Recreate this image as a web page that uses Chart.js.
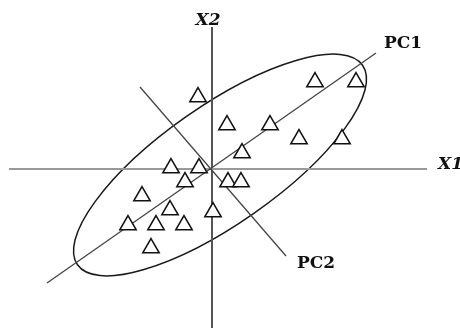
<!DOCTYPE html>
<html>
<head>
<meta charset="utf-8">
<script src="https://cdn.jsdelivr.net/npm/chart.js@4/dist/chart.umd.min.js"></script>
<style>
html,body{margin:0;padding:0;background:#fff;}
#wrap{width:460px;height:328px;}
</style>
</head>
<body>
<div id="wrap"><canvas id="c" width="460" height="328"></canvas></div>
<script>
// Observations (triangle markers)
const triX = [-1.4, 1.5, 10.3, 14.4, 5.8, 8.7, 13.0, 3.0, -4.1, -1.3, -2.7, 1.6, 2.9, -7.0, -4.2, 0.1, -8.4, -5.6, -2.8, -6.1];
const triY = [7.2, 4.4, 8.7, 8.7, 4.4, 3.0, 3.0, 1.6, 0.1, 0.1, -1.3, -1.3, -1.3, -2.7, -4.1, -4.3, -5.6, -5.6, -5.6, -7.9];

// Original axes X1 / X2 (end points)
const x1AxisX = [-20.3, 21.5];
const x1AxisY = [0, 0];
const x2AxisX = [0, 0];
const x2AxisY = [14.2, -16.0];

// Principal component directions (end points)
const pc1X = [-16.5, 16.4];
const pc1Y = [-11.4, 11.6];
const pc2X = [-7.2, 7.4];
const pc2Y = [8.2, -8.7];

// Confidence ellipse: centre x, centre y, semi-major, semi-minor, angle (deg)
const ellipseParams = [0.8, 0.4, 17.4, 5.9, 35];

// Labels
const labelText = ['X1', 'X2', 'PC1', 'PC2'];
const labelX = [22.6, -0.4, 19.1, 10.4];
const labelY = [0.0, 14.8, 12.55, -9.5];

const toPts = (xs, ys) => xs.map((x, i) => ({x: x, y: ys[i]}));

const ellipsePlugin = {
  id: 'ellipse',
  beforeDatasetsDraw(chart) {
    const xs = chart.scales.x, ys = chart.scales.y, ctx = chart.ctx;
    const [cx, cy, a, b, ang] = ellipseParams;
    const px = xs.getPixelForValue(cx), py = ys.getPixelForValue(cy);
    const rx = Math.abs(xs.getPixelForValue(cx + a) - px);
    const ry = Math.abs(ys.getPixelForValue(cy + b) - py);
    ctx.save();
    ctx.beginPath();
    ctx.ellipse(px, py, rx, ry, -ang * Math.PI / 180, 0, Math.PI * 2);
    ctx.strokeStyle = '#1a1a1a';
    ctx.lineWidth = 1.5;
    ctx.stroke();
    ctx.restore();
  }
};

const labelPlugin = {
  id: 'labels',
  afterDraw(chart) {
    const xs = chart.scales.x, ys = chart.scales.y, ctx = chart.ctx;
    ctx.save();
    ctx.fillStyle = '#111';
    labelText.forEach((t, i) => {
      const px = xs.getPixelForValue(labelX[i]);
      const py = ys.getPixelForValue(labelY[i]);
      if (t === 'X1') {
        ctx.font = 'bold italic 17px "DejaVu Serif"';
        ctx.textAlign = 'left';
        ctx.textBaseline = 'alphabetic';
      } else if (t === 'X2') {
        ctx.font = 'bold italic 17px "DejaVu Serif"';
        ctx.textAlign = 'center';
        ctx.textBaseline = 'middle';
      } else {
        ctx.font = 'bold 17px "DejaVu Serif"';
        ctx.textAlign = 'center';
        ctx.textBaseline = 'middle';
      }
      ctx.fillText(t, px, py);
    });
    ctx.restore();
  }
};

new Chart(document.getElementById('c'), {
  type: 'scatter',
  data: {
    datasets: [
      {
        label: 'observations',
        data: toPts(triX, triY),
        pointStyle: 'triangle',
        pointRadius: 9.5,
        pointHoverRadius: 9.5,
        backgroundColor: '#fff',
        borderColor: '#111',
        borderWidth: 1.5,
        order: 0
      },
      {
        label: 'X1',
        data: toPts(x1AxisX, x1AxisY),
        showLine: true, pointRadius: 0,
        borderColor: '#999', borderWidth: 2, order: 3
      },
      {
        label: 'X2',
        data: toPts(x2AxisX, x2AxisY),
        showLine: true, pointRadius: 0,
        borderColor: '#555', borderWidth: 2, order: 3
      },
      {
        label: 'PC1',
        data: toPts(pc1X, pc1Y),
        showLine: true, pointRadius: 0,
        borderColor: '#444', borderWidth: 1.3, order: 2
      },
      {
        label: 'PC2',
        data: toPts(pc2X, pc2Y),
        showLine: true, pointRadius: 0,
        borderColor: '#444', borderWidth: 1.3, order: 2
      }
    ]
  },
  options: {
    responsive: false,
    animation: false,
    devicePixelRatio: 1,
    layout: { padding: 0, autoPadding: false },
    plugins: { legend: { display: false }, tooltip: { enabled: false }, title: { display: false } },
    events: [],
    scales: {
      x: { type: 'linear', display: false, min: -21.2, max: 24.8 },
      y: { type: 'linear', display: false, min: -15.9, max: 16.9 }
    }
  },
  plugins: [ellipsePlugin, labelPlugin]
});
</script>
</body>
</html>
